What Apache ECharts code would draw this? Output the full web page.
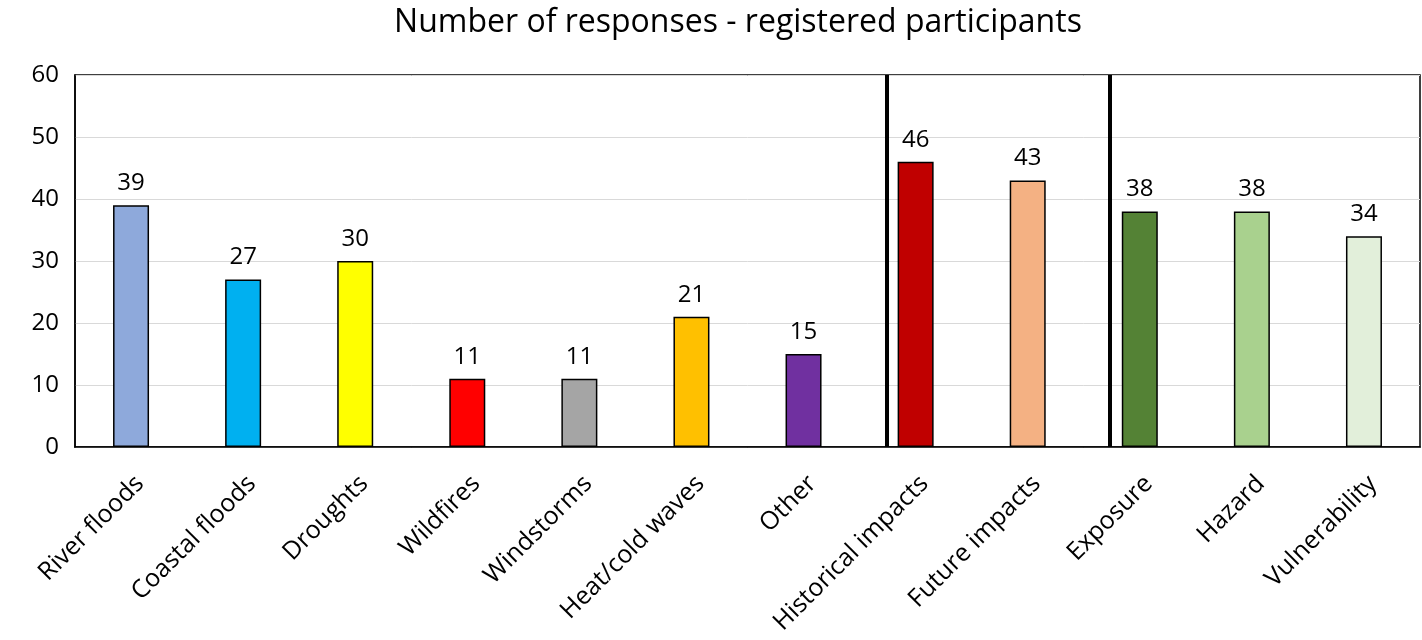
<!DOCTYPE html>
<html>
<head>
<meta charset="utf-8">
<script src="https://cdn.jsdelivr.net/npm/echarts@6/dist/echarts.min.js"></script>
<style>
  html, body { margin: 0; padding: 0; background: #fff; }
  #chart { width: 1422px; height: 640px; }
</style>
</head>
<body>
<div id="chart"></div>
<script>
var categories = ['River floods', 'Coastal floods', 'Droughts', 'Wildfires', 'Windstorms', 'Heat/cold waves', 'Other',
  'Historical impacts', 'Future impacts', 'Exposure', 'Hazard', 'Vulnerability'];
var responses = [39, 27, 30, 11, 11, 21, 15, 46, 43, 38, 38, 34];
var barColors = ['#8EA9DB', '#00B0F0', '#FFFF00', '#FF0000', '#A5A5A5', '#FFC000', '#7030A0',
  '#C00000', '#F4B183', '#548235', '#A9D18E', '#E2EFDA'];
// separators between the groups, in category units from the left edge
var separators = [7.236, 9.226];
var yTicks = { min: 0, max: 60, interval: 10 };

var font = '"Open Sans", sans-serif';
var chart = echarts.init(document.getElementById('chart'));

var option = {
  backgroundColor: '#fff',
  animation: false,
  title: {
    text: 'Number of responses - registered participants',
    left: 733,
    textAlign: 'center',
    top: 2,
    textStyle: { color: '#000', fontSize: 32, fontWeight: 'normal', fontFamily: font }
  },
  grid: {
    left: 75, right: 2, top: 75, bottom: 193,
    show: true,
    borderColor: '#000',
    borderWidth: 1.5
  },
  xAxis: [{
    type: 'category',
    data: categories,
    axisLine: { show: true, lineStyle: { color: '#000', width: 1.5 } },
    axisTick: { show: false },
    axisLabel: {
      rotate: 45,
      interval: 0,
      margin: 24,
      verticalAlign: 'top',
      color: '#000',
      fontSize: 25,
      fontFamily: font
    }
  }, {
    type: 'value',
    min: 0,
    max: categories.length,
    show: false
  }],
  yAxis: {
    type: 'value',
    min: yTicks.min,
    max: yTicks.max,
    interval: yTicks.interval,
    axisLine: { show: true, lineStyle: { color: '#000', width: 1.5 } },
    axisTick: { show: false },
    axisLabel: { color: '#000', fontSize: 24, fontFamily: font, margin: 16 },
    splitLine: { show: true, lineStyle: { color: '#d9d9d9', width: 1 } }
  },
  series: [{
    type: 'bar',
    barWidth: 36,
    data: responses.map(function (v, i) {
      return { value: v, itemStyle: { color: barColors[i] } };
    }),
    itemStyle: { borderColor: '#000', borderWidth: 1.5 },
    label: {
      show: true,
      position: 'top',
      distance: 10,
      color: '#000',
      fontSize: 24,
      fontFamily: font
    }
  }, {
    type: 'scatter',
    xAxisIndex: 1,
    data: [],
    markLine: {
      silent: true,
      symbol: 'none',
      label: { show: false },
      lineStyle: { color: '#000', width: 4, type: 'solid' },
      data: separators.map(function (s) { return { xAxis: s }; })
    }
  }]
};
chart.setOption(option);
</script>
</body>
</html>
